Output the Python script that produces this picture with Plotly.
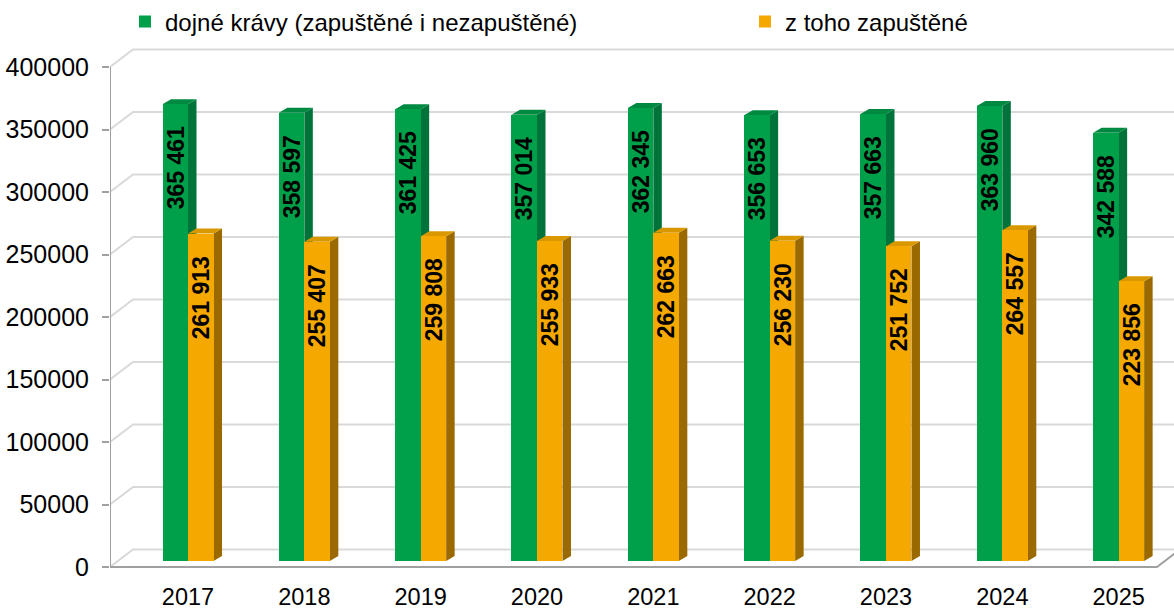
import plotly.graph_objects as go

years = ["2017", "2018", "2019", "2020", "2021", "2022", "2023", "2024", "2025"]
dojne = [365461, 358597, 361425, 357014, 362345, 356653, 357663, 363960, 342588]
zapustene = [261913, 255407, 259808, 255933, 262663, 256230, 251752, 264557, 223856]
y_ticks = [0, 50000, 100000, 150000, 200000, 250000, 300000, 350000, 400000]

name_a = "dojné krávy (zapuštěné i nezapuštěné)"
name_b = "z toho zapuštěné"

GREEN, GREEN_SIDE, GREEN_TOP = "#00A04B", "#00733B", "#008A41"
ORANGE, ORANGE_SIDE, ORANGE_TOP = "#F4A800", "#9A6A00", "#DA9800"
GRID = "#D9D9D9"
AXIS = "#A0A0A0"
FONT = "Arial, Liberation Sans, sans-serif"

# geometry (pixels -> units)
PX_X = 116.33           # px per category unit
PX_Y = 0.00125          # px per value unit
W = 25.5 / PX_X          # bar width
BASE = 6 / PX_Y          # bars sit slightly above the floor front edge
DX, DY = 8.5 / PX_X, 5 / PX_Y          # bar depth
GDX, GDY = 23 / PX_X, 17.5 / PX_Y      # wall depth
XMIN = -0.6705
XMAX = XMIN + 1064 / PX_X
XFLOOR = XMIN + 1047 / PX_X
YMIN, YMAX = -13 / PX_Y, -13 / PX_Y + 540 / PX_Y

x = list(range(len(years)))

def fmt(v):
    return f"{v:,}".replace(",", " ") + "\u00a0" * 3

fig = go.Figure()
fig.add_trace(go.Bar(
    x=x, y=dojne, base=BASE, width=W, offset=-W, name=name_a, legend="legend",
    marker=dict(color=GREEN, line=dict(width=0)),
    text=[fmt(v) for v in dojne], textposition="inside", insidetextanchor="end",
    textangle=-90, constraintext="none",
    textfont=dict(family=FONT, size=23, color="black", weight="bold"),
    hoverinfo="skip"))
fig.add_trace(go.Bar(
    x=x, y=zapustene, base=BASE, width=W, offset=0, name=name_b, legend="legend2",
    marker=dict(color=ORANGE, line=dict(width=0)),
    text=[fmt(v) for v in zapustene], textposition="inside", insidetextanchor="end",
    textangle=-90, constraintext="none",
    textfont=dict(family=FONT, size=23, color="black", weight="bold"),
    hoverinfo="skip"))

shapes = []
# back wall gridlines
for v in y_ticks:
    shapes.append(dict(type="path", xref="x", yref="y", layer="below",
                       path=f"M{XMIN},{v} L{XMIN+GDX},{v+GDY} L{XMAX},{v+GDY}",
                       line=dict(color=GRID, width=2)))
# floor front edge and axis line
shapes.append(dict(type="path", xref="x", yref="y", layer="below",
                   path=f"M{XMIN},0 L{XFLOOR},0 L{XFLOOR+GDX},{GDY}",
                   line=dict(color=AXIS, width=2)))
shapes.append(dict(type="line", xref="x", yref="y", layer="below",
                   x0=XMIN, x1=XMIN, y0=0, y1=y_ticks[-1],
                   line=dict(color=AXIS, width=2)))

def faces(x0, x1, top, side, topc):
    b = BASE
    t = BASE + top
    return [
        dict(type="path", xref="x", yref="y", layer="below",
             path=f"M{x1},{b} L{x1+DX},{b+DY} L{x1+DX},{t+DY} L{x1},{t} Z",
             fillcolor=side, line=dict(width=0)),
        dict(type="path", xref="x", yref="y", layer="below",
             path=f"M{x0},{t} L{x0+DX},{t+DY} L{x1+DX},{t+DY} L{x1},{t} Z",
             fillcolor=topc, line=dict(width=0)),
    ]

for i, v in enumerate(dojne):
    shapes += faces(i - W, i, v, GREEN_SIDE, GREEN_TOP)
for i, v in enumerate(zapustene):
    shapes += faces(i, i + W, v, ORANGE_SIDE, ORANGE_TOP)

legend_common = dict(orientation="h", y=1.0333, yanchor="middle", xanchor="left",
                     font=dict(family=FONT, size=24, color="black"),
                     itemwidth=30, bgcolor="rgba(0,0,0,0)")

fig.update_layout(
    width=1174, height=614, autosize=False,
    margin=dict(l=110, r=0, t=40, b=34, autoexpand=False),
    paper_bgcolor="white", plot_bgcolor="white",
    barmode="overlay", bargap=0,
    shapes=shapes,
    showlegend=True,
    legend=dict(x=15 / 1064, **legend_common),
    legend2=dict(x=635 / 1064, **legend_common),
    font=dict(family=FONT, size=23, color="black"),
    hovermode=False,
    xaxis=dict(range=[XMIN, XMAX], tickvals=x, ticktext=years, showgrid=False,
               zeroline=False, showline=False, ticks="",
               tickfont=dict(family=FONT, size=23.5, color="black")),
    yaxis=dict(range=[YMIN, YMAX], tickvals=y_ticks, ticktext=[str(v) for v in y_ticks],
               showgrid=False, zeroline=False, showline=False,
               ticks="outside", ticklen=7, tickcolor=AXIS, tickwidth=2,
               ticklabelstandoff=8,
               tickfont=dict(family=FONT, size=25, color="black")),
)

fig.write_html("out.html", config={"displayModeBar": False},
               post_script="document.body.style.margin='0';")
